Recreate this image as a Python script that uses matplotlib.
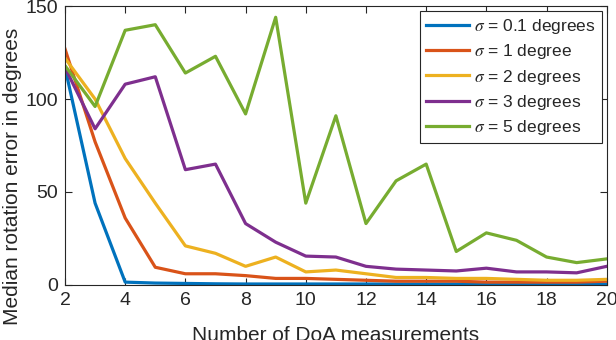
import matplotlib
matplotlib.use('Agg')
import matplotlib.pyplot as plt

plt.rcParams['font.family'] = ['Liberation Sans', 'DejaVu Sans']
plt.rcParams['mathtext.fontset'] = 'stix'

# number of DoA measurements
n_meas = list(range(2, 21))

err_01 = [117, 44, 1.5, 1, 0.8, 0.6, 0.5, 0.5, 0.5, 0.5, 0.5, 0.5, 0.5, 0.5, 0.5, 0.5, 0.5, 0.5, 0.5]
err_1 = [127, 77, 36, 9.5, 6, 6, 5, 3.5, 3.5, 3, 2.5, 2, 2, 2, 1.5, 1.5, 1.5, 1.5, 2]
err_2 = [122, 100, 68, 44, 21, 17, 10, 15, 7, 8, 6, 4, 4, 3.5, 3.5, 3, 2.5, 2.5, 3]
err_3 = [117, 84, 108, 112, 62, 65, 33, 23, 15.5, 15, 10, 8.5, 8, 7.5, 9, 7, 7, 6.5, 10]
err_5 = [118, 96, 137, 140, 114, 123, 92, 144, 44, 91, 33, 56, 65, 18, 28, 24, 15, 12, 14]

labels = [r'$\sigma$ = 0.1 degrees', r'$\sigma$ = 1 degree', r'$\sigma$ = 2 degrees',
          r'$\sigma$ = 3 degrees', r'$\sigma$ = 5 degrees']
colors = ['#0072BD', '#D95319', '#EDB120', '#7E2F8E', '#77AC30']

fig = plt.figure(figsize=(6.16, 3.40), dpi=100)
ax = fig.add_axes([0.1055, 0.162, 0.8795, 0.82])

for ys, lab, c in zip([err_01, err_1, err_2, err_3, err_5], labels, colors):
    ax.plot(n_meas, ys, color=c, linewidth=2.3, label=lab)

ax.set_xlim(2, 20)
ax.set_ylim(0, 150)
ax.set_xticks(range(2, 21, 2))
ax.set_yticks([0, 50, 100, 150])

edge = '#262626'
for s in ax.spines.values():
    s.set_color(edge)
    s.set_linewidth(0.8)
ax.tick_params(direction='in', top=True, right=True, length=5, width=0.8,
               color=edge, labelsize=14, labelcolor=edge, pad=5)

ax.set_xlabel('Number of DoA measurements', fontsize=15, color=edge, labelpad=12)
ax.set_ylabel('Median rotation error in degrees', fontsize=15, color=edge)
ax.yaxis.set_label_coords(-0.08, 0.39)

leg = ax.legend(loc='upper right', fontsize=12.5, handlelength=2.5, handletextpad=0.25,
                labelspacing=0.35, borderpad=0.35, fancybox=False, framealpha=1,
                borderaxespad=0.3)
leg.get_frame().set_edgecolor(edge)
leg.get_frame().set_linewidth(0.8)
for t in leg.get_texts():
    t.set_color(edge)

fig.savefig('out.png', dpi=100)
